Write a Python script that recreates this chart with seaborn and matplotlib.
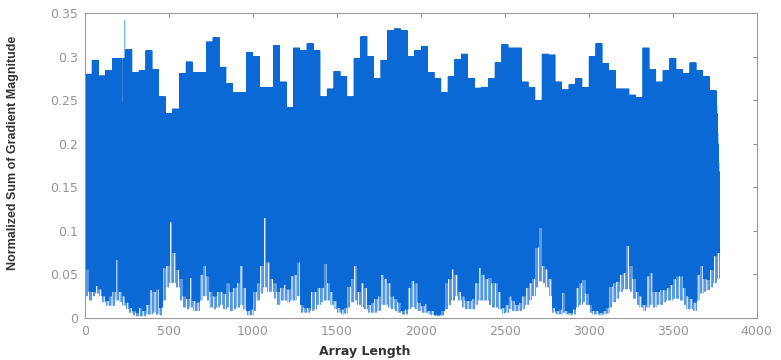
import numpy as np
import matplotlib
matplotlib.use('Agg')
import matplotlib.pyplot as plt
import seaborn as sns

# top level of the signal, one value per block of 40 samples
upper_levels = [
    0.280, 0.296, 0.278, 0.284, 0.298, 0.298, 0.308, 0.282, 0.284, 0.307,
    0.285, 0.254, 0.235, 0.240, 0.281, 0.294, 0.282, 0.282, 0.317, 0.322,
    0.288, 0.269, 0.259, 0.259, 0.305, 0.300, 0.265, 0.265, 0.313, 0.271,
    0.242, 0.310, 0.307, 0.315, 0.307, 0.254, 0.263, 0.283, 0.277, 0.254,
    0.298, 0.323, 0.300, 0.275, 0.296, 0.330, 0.332, 0.330, 0.300, 0.307,
    0.312, 0.282, 0.275, 0.259, 0.277, 0.297, 0.303, 0.275, 0.264, 0.265,
    0.275, 0.293, 0.314, 0.310, 0.310, 0.271, 0.265, 0.250, 0.303, 0.302,
    0.271, 0.262, 0.268, 0.275, 0.265, 0.300, 0.315, 0.292, 0.284, 0.263,
    0.263, 0.256, 0.253, 0.310, 0.285, 0.271, 0.284, 0.298, 0.285, 0.281,
    0.293, 0.284, 0.277, 0.261, 0.244,
]

# bottom of the solid band, one value per block of 20 samples
low_dark = [
    0.056, 0.030, 0.030, 0.037, 0.033, 0.025, 0.020, 0.025, 0.030, 0.067,
    0.030, 0.025, 0.018, 0.012, 0.008, 0.006, 0.012, 0.008, 0.015, 0.032,
    0.030, 0.033, 0.012, 0.058, 0.060, 0.110, 0.075, 0.055, 0.045, 0.025,
    0.022, 0.046, 0.020, 0.018, 0.050, 0.060, 0.048, 0.030, 0.025, 0.030,
    0.030, 0.028, 0.040, 0.030, 0.035, 0.040, 0.060, 0.035, 0.008, 0.010,
    0.030, 0.040, 0.060, 0.115, 0.064, 0.045, 0.040, 0.030, 0.035, 0.038,
    0.033, 0.048, 0.050, 0.064, 0.015, 0.012, 0.012, 0.030, 0.030, 0.035,
    0.035, 0.062, 0.040, 0.030, 0.020, 0.012, 0.010, 0.012, 0.036, 0.045,
    0.060, 0.030, 0.040, 0.035, 0.015, 0.018, 0.022, 0.025, 0.050, 0.045,
    0.040, 0.025, 0.022, 0.018, 0.008, 0.010, 0.035, 0.043, 0.040, 0.018,
    0.014, 0.016, 0.008, 0.008, 0.004, 0.004, 0.008, 0.040, 0.045, 0.056,
    0.050, 0.030, 0.025, 0.020, 0.020, 0.022, 0.040, 0.058, 0.050, 0.045,
    0.046, 0.040, 0.040, 0.030, 0.012, 0.015, 0.025, 0.020, 0.015, 0.018,
    0.025, 0.035, 0.040, 0.045, 0.081, 0.104, 0.060, 0.056, 0.045, 0.012,
    0.008, 0.010, 0.029, 0.008, 0.006, 0.010, 0.035, 0.040, 0.044, 0.028,
    0.015, 0.008, 0.008, 0.006, 0.008, 0.012, 0.036, 0.040, 0.042, 0.050,
    0.052, 0.083, 0.060, 0.045, 0.030, 0.025, 0.015, 0.048, 0.052, 0.030,
    0.030, 0.032, 0.032, 0.035, 0.038, 0.045, 0.048, 0.048, 0.035, 0.025,
    0.022, 0.018, 0.050, 0.060, 0.045, 0.044, 0.055, 0.071, 0.075,
]

# lowest values reached (top of the white area), per block of 20 samples
low_floor = [
    0.025, 0.020, 0.025, 0.028, 0.025, 0.018, 0.014, 0.014, 0.014, 0.020,
    0.018, 0.014, 0.010, 0.006, 0.003, 0.002, 0.002, 0.002, 0.004, 0.004,
    0.006, 0.004, 0.003, 0.020, 0.035, 0.040, 0.040, 0.035, 0.020, 0.012,
    0.010, 0.012, 0.008, 0.008, 0.020, 0.025, 0.020, 0.012, 0.010, 0.012,
    0.015, 0.010, 0.012, 0.008, 0.010, 0.012, 0.015, 0.010, 0.003, 0.003,
    0.008, 0.020, 0.028, 0.035, 0.030, 0.030, 0.022, 0.015, 0.020, 0.020,
    0.018, 0.020, 0.020, 0.025, 0.006, 0.006, 0.006, 0.008, 0.010, 0.015,
    0.018, 0.020, 0.020, 0.015, 0.010, 0.006, 0.004, 0.005, 0.012, 0.018,
    0.020, 0.015, 0.012, 0.010, 0.006, 0.006, 0.006, 0.008, 0.015, 0.015,
    0.012, 0.010, 0.008, 0.006, 0.004, 0.004, 0.010, 0.012, 0.010, 0.008,
    0.006, 0.006, 0.004, 0.003, 0.002, 0.002, 0.003, 0.010, 0.015, 0.020,
    0.025, 0.020, 0.012, 0.010, 0.010, 0.010, 0.015, 0.020, 0.020, 0.020,
    0.015, 0.012, 0.012, 0.010, 0.005, 0.006, 0.010, 0.008, 0.008, 0.008,
    0.010, 0.015, 0.020, 0.025, 0.035, 0.042, 0.040, 0.035, 0.025, 0.006,
    0.004, 0.004, 0.006, 0.004, 0.003, 0.004, 0.012, 0.015, 0.018, 0.015,
    0.006, 0.004, 0.004, 0.003, 0.004, 0.005, 0.012, 0.018, 0.022, 0.030,
    0.033, 0.033, 0.030, 0.022, 0.015, 0.012, 0.008, 0.012, 0.015, 0.012,
    0.015, 0.015, 0.018, 0.020, 0.020, 0.022, 0.022, 0.020, 0.015, 0.010,
    0.010, 0.008, 0.020, 0.028, 0.030, 0.032, 0.035, 0.040, 0.045,
]

# single samples that leave the block level
spike_idx = [222, 224, 236]
spike_val = [0.247, 0.247, 0.342]
# last top values where the signal runs out
tail_val = [0.235, 0.225, 0.212, 0.200, 0.190, 0.178, 0.168, 0.160]

xticks = [0, 500, 1000, 1500, 2000, 2500, 3000, 3500, 4000]
yticks = [0, 0.05, 0.1, 0.15, 0.2, 0.25, 0.3, 0.35]
ytick_labels = ['0', '0.05', '0.1', '0.15', '0.2', '0.25', '0.3', '0.35']

n = 3780
signal = np.empty(n)
for i in range(n):
    if i % 2 == 0:
        signal[i] = upper_levels[i // 40]
    elif (i // 2) % 4 == 3:
        signal[i] = low_floor[i // 20]
    else:
        signal[i] = low_dark[i // 20]
for i, v in zip(spike_idx, spike_val):
    signal[i] = v
for k, v in enumerate(tail_val):
    signal[n - 2 * len(tail_val) + 2 * k] = v

sns.set_style('white')
plt.rcParams['path.simplify'] = False
plt.rcParams['font.family'] = ['DejaVu Sans']

fig = plt.figure(figsize=(7.81, 3.6), dpi=100)
ax = fig.add_axes([0.109, 0.117, 0.860, 0.847])

sns.lineplot(x=np.arange(1, n + 1), y=signal, ax=ax, color='#0a69d4',
             linewidth=0.25, estimator=None, sort=False)

ax.set_xlim(0, 4000)
ax.set_ylim(0, 0.35)
ax.set_xticks(xticks)
ax.set_xticklabels([str(t) for t in xticks])
ax.set_yticks(yticks)
ax.set_yticklabels(ytick_labels)
ax.tick_params(direction='in', top=True, right=True, length=3, width=0.6,
               color='#777777', labelcolor='#959595', labelsize=9, pad=5)
for s in ax.spines.values():
    s.set_color('#999999')
    s.set_linewidth(0.8)

ax.set_xlabel('Array Length', fontsize=9, fontweight='bold', color='#333333')
ax.xaxis.set_label_coords(0.417, -0.088)
ax.set_ylabel('Normalized Sum of Gradient Magnitude', fontsize=9, fontweight='bold',
              color='#333333', family=['Liberation Sans Narrow', 'Liberation Sans', 'DejaVu Sans'])
ax.yaxis.set_label_coords(-0.098, 0.54)

fig.savefig('out.png', dpi=100)
